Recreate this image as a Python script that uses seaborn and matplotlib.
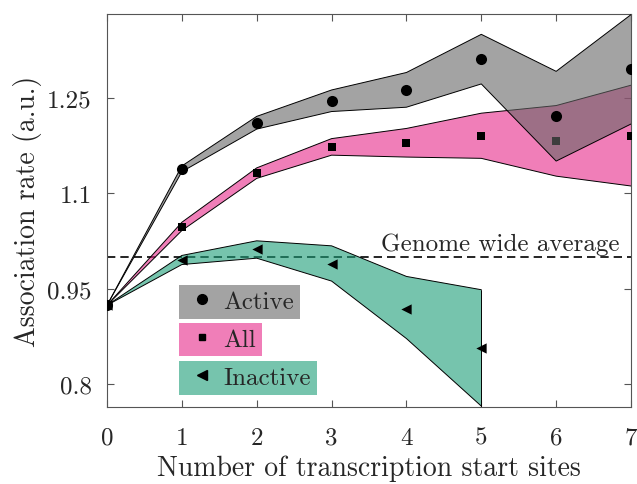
import matplotlib
matplotlib.use("Agg")
import matplotlib.pyplot as plt
import seaborn as sns
import pandas as pd
from matplotlib.lines import Line2D

# ---- data ----
tss = [0, 1, 2, 3, 4, 5, 6, 7]
active_mean = [0.924, 1.139, 1.211, 1.245, 1.2625, 1.311, 1.221, 1.295]
active_low = [0.924, 1.134, 1.201, 1.2286, 1.2354, 1.272, 1.1507, 1.209]
active_high = [0.924, 1.143, 1.221, 1.2625, 1.290, 1.350, 1.2918, 1.381]

all_mean = [0.924, 1.047, 1.132, 1.173, 1.179, 1.190, 1.1826, 1.190]
all_low = [0.924, 1.0415, 1.1235, 1.160, 1.157, 1.155, 1.127, 1.1115]
all_high = [0.924, 1.0545, 1.140, 1.186, 1.202, 1.226, 1.238, 1.270]

inact_tss = [0, 1, 2, 3, 4, 5]
inact_mean = [0.924, 0.995, 1.0117, 0.989, 0.918, 0.8564]
inact_low = [0.924, 0.988, 0.998, 0.962, 0.8716, 0.7654]
inact_high = [0.924, 1.0023, 1.0253, 1.0174, 0.9693, 0.9484]

genome_avg = 1.0
series_labels = ["Active", "All", "Inactive"]
yticks = [0.8, 0.95, 1.1, 1.25]
ytick_labels = ["0.8", "0.95", "1.1", "1.25"]
xticks = [0, 1, 2, 3, 4, 5, 6, 7]

# ---- style ----
sns.set_theme(style="ticks")
plt.rcParams["font.family"] = ["cmr10", "DejaVu Serif"]
plt.rcParams["mathtext.fontset"] = "cm"
plt.rcParams["axes.formatter.use_mathtext"] = True
FS = 18
FS_LABEL = 20

c_active = "#666666"
c_all = "#e7298a"
c_inact = "#1b9e77"
ALPHA = 0.6

fig = plt.figure(figsize=(6.37, 4.85), dpi=100)
ax = fig.add_axes([0.168, 0.1588, 0.8226, 0.8103])

ax.axhline(genome_avg, color="black", linestyle=(0, (5, 3)), linewidth=1.2, zorder=1)
ax.text(6.84, genome_avg + 0.011, "Genome wide average", ha="right", va="baseline",
        fontsize=FS, zorder=8)

def band(x, lo, hi, color, z):
    ax.fill_between(x, lo, hi, facecolor=color, alpha=ALPHA, edgecolor="none", zorder=z)
    ax.plot(x, lo, color="black", linewidth=0.7, zorder=z)
    ax.plot(x, hi, color="black", linewidth=0.7, zorder=z)
    ax.plot([x[-1], x[-1]], [lo[-1], hi[-1]], color="black", linewidth=0.7, zorder=z)

df_all = pd.DataFrame({"x": tss, "y": all_mean})
df_act = pd.DataFrame({"x": tss, "y": active_mean})
df_in = pd.DataFrame({"x": inact_tss, "y": inact_mean})

band(tss, all_low, all_high, c_all, 2)
sns.scatterplot(data=df_all, x="x", y="y", marker="s", s=30, color="black",
                linewidth=0, ax=ax, zorder=3, legend=False)
band(tss, active_low, active_high, c_active, 4)
sns.scatterplot(data=df_act, x="x", y="y", marker="o", s=64, color="black",
                linewidth=0, ax=ax, zorder=5, legend=False)
band(inact_tss, inact_low, inact_high, c_inact, 6)
sns.scatterplot(data=df_in, x="x", y="y", marker="<", s=55, color="black",
                linewidth=0, ax=ax, zorder=7, legend=False)

ax.set_xlim(0, 7)
ax.set_ylim(0.764, 1.382)
ax.set_xticks(xticks)
ax.set_xticklabels([str(t) for t in xticks])
ax.set_yticks(yticks)
ax.set_yticklabels(ytick_labels)
ax.tick_params(direction="in", length=5, width=0.8, color="#555555",
               labelsize=FS, top=True, right=True)
ax.tick_params(axis="x", pad=14)
ax.tick_params(axis="y", pad=11)
for s in ax.spines.values():
    s.set_color("#555555")
    s.set_linewidth(0.8)
ax.set_xlabel("Number of transcription start sites", fontsize=FS_LABEL, labelpad=4)
ax.set_ylabel("Association rate (a.u.)", fontsize=FS_LABEL, labelpad=4)

markers = ["o", "s", "<"]
msizes = [7, 5, 7]
colors = [c_active, c_all, c_inact]
anchors = [(0.138, 0.310), (0.138, 0.214), (0.138, 0.117)]
for lab, m, ms, col, anc in zip(series_labels, markers, msizes, colors, anchors):
    h = Line2D([], [], marker=m, color="black", linestyle="none", markersize=ms)
    leg = ax.legend([h], [lab], loc="upper left", bbox_to_anchor=anc, fontsize=FS,
                    frameon=True, facecolor=col, edgecolor="none", framealpha=ALPHA,
                    fancybox=False, borderpad=0.22, borderaxespad=0, handlelength=1.35,
                    handletextpad=0.2, shadow=False)
    leg.get_frame().set_linewidth(0)
    leg.set_zorder(9)
    ax.add_artist(leg)
ax.legend_ = None  # avoid drawing the last legend twice

fig.savefig("out.png", dpi=100)
